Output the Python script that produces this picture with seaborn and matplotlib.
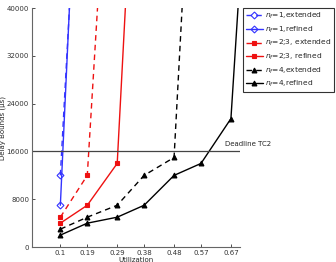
import numpy as np
import pandas as pd
import matplotlib
matplotlib.use("Agg")
import matplotlib.pyplot as plt
import seaborn as sns

# utilization steps (tick labels are rounded versions of these)
util = [0.1, 0.19, 0.29, 0.38, 0.48, 0.57, 0.67, 0.76]
tick_labels = ["0.1", "0.19", "0.29", "0.38", "0.48", "0.57", "0.67"]

# delay bounds in us (last point of each curve leaves the plot)
n1_ext = [12000, 95000]
n1_ref = [7000, 105000]
n23_ext = [5000, 12000, 94000]
n23_ref = [4000, 7000, 14000, 100000]
n4_ext = [3000, 5000, 7000, 12000, 15000, 99000]
n4_ref = [2000, 4000, 5000, 7000, 12000, 14000, 21500, 92000]

deadline = 16000

series = [
    (r"$n_f$=1,extended", n1_ext, "#3333ff", (4, 3), "D"),
    (r"$n_f$=1,refined", n1_ref, "#3333ff", "", "D"),
    (r"$n_f$=2;3, extended", n23_ext, "#ee1111", (4, 3), "s"),
    (r"$n_f$=2;3, refined", n23_ref, "#ee1111", "", "s"),
    (r"$n_f$=4,extended", n4_ext, "black", (4, 3), "^"),
    (r"$n_f$=4,refined", n4_ref, "black", "", "^"),
]

sns.set_style("ticks")
plt.rcParams["font.family"] = ["DejaVu Sans"]

fig = plt.figure(figsize=(3.36, 2.62), dpi=100)
ax = fig.add_axes([0.095, 0.057, 0.619, 0.912])

for label, vals, color, dash, marker in series:
    df = pd.DataFrame({"u": util[:len(vals)], "d": vals})
    mfc = "none" if marker == "D" else color
    sns.lineplot(data=df, x="u", y="d", ax=ax, color=color, linewidth=1.0,
                 marker=marker, markersize=3.5, markerfacecolor=mfc,
                 markeredgecolor=color, markeredgewidth=0.8, label=label)
    if dash:
        ax.lines[-1].set_dashes(dash)

ax.axhline(deadline, color="#444444", linewidth=0.9)
ax.text(0.65, deadline + 800, "Deadline TC2", fontsize=5, ha="left", va="bottom",
        clip_on=False)

ax.set_xlim(0.005, 0.70)
ax.set_ylim(0, 40000)
ax.set_xticks(util[:7])
ax.set_xticklabels(tick_labels)
ax.set_yticks(np.arange(0, 40001, 8000))
ax.tick_params(direction="in", labelsize=5, length=2, width=0.6, pad=2, colors="#333333")
sns.despine(ax=ax)
for s in ["left", "bottom"]:
    ax.spines[s].set_color("#666666")
    ax.spines[s].set_linewidth(0.8)

ax.set_xlabel("Utilization", fontsize=5, labelpad=1)
ax.set_ylabel("Delay Bounds (\u03bcs)", fontsize=5)
ax.yaxis.set_label_coords(-0.125, 0.5)

leg = ax.legend(loc="upper left", bbox_to_anchor=(1.015, 1.0), fontsize=5.4,
                frameon=True, fancybox=False, edgecolor="black", handlelength=2.2,
                handletextpad=0.3, borderpad=0.4, labelspacing=0.45, borderaxespad=0)
leg.get_frame().set_linewidth(0.8)

fig.savefig("out.png", dpi=100)
